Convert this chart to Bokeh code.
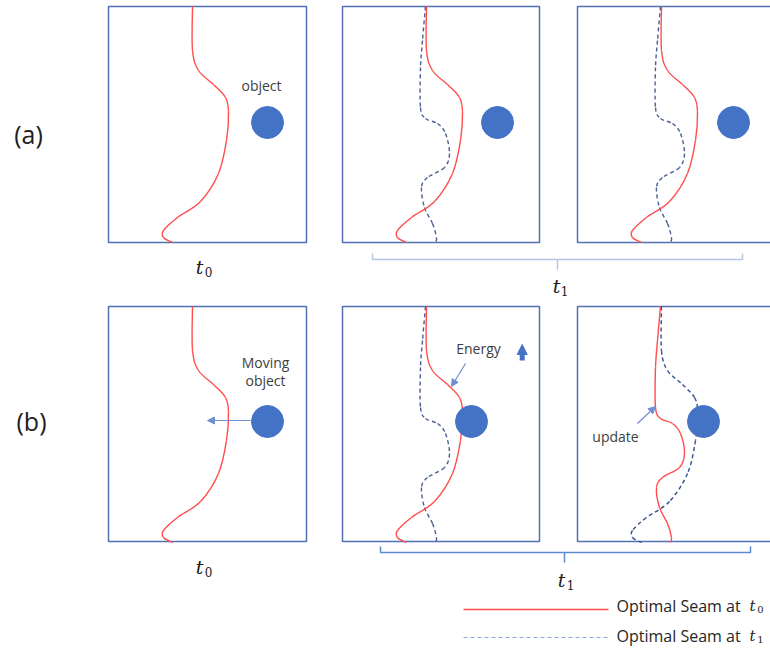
from bokeh.plotting import figure
from bokeh.models import Range1d, Arrow, NormalHead
from bokeh.embed import file_html
from bokeh.resources import INLINE
from bokeh.core.properties import value

# ---------------- data (reference pixel coordinates) ----------------
PANEL_LEFT = [108, 342, 577]
PANEL_RIGHT = [306, 539, 790]
ROW_TOP = [6, 306]
ROW_BOTTOM = [242, 541]

OBJ_X_A = [267, 497, 733]
OBJ_X_B = [267, 471, 703]
OBJ_Y = [122, 421]

# seam shapes relative to panel top-left
SEAM_T0_DX = [84, 84, 90, 105, 117, 120, 118, 110, 92, 69, 55, 55, 64]
SEAM_T0_DY = [0, 44, 64, 78, 91, 105, 134, 167, 195, 211, 224, 231, 236]
SEAM_T1_DX = [83, 80, 78, 78, 83, 95, 103, 107, 102, 85, 79, 82, 90, 94, 93]
SEAM_T1_DY = [0, 34, 61, 101, 112, 117, 127, 147, 161, 171, 181, 201, 217, 231, 236]

RED = "#ff4d4d"
NAVY = "#4a5f94"
BOX = "#5470b4"
DOT = "#4472c4"
TXT = "#404040"

p = figure(width=770, height=652, x_range=Range1d(0, 770), y_range=Range1d(652, 0),
           output_backend="svg", toolbar_location=None, min_border=0)
p.axis.visible = False
p.grid.visible = False
p.outline_line_color = None
p.background_fill_color = "white"
p.border_fill_color = "white"


def seam(x0, y0, dx, dy, color, dash):
    px = [x0 + v for v in dx]
    py = [y0 + v for v in dy]
    n = len(px)
    xs0, ys0, xs1, ys1, c0x, c0y, c1x, c1y = [], [], [], [], [], [], [], []
    for i in range(n - 1):
        a = max(i - 1, 0)
        b = min(i + 2, n - 1)
        xs0.append(px[i]); ys0.append(py[i])
        xs1.append(px[i + 1]); ys1.append(py[i + 1])
        c0x.append(px[i] + (px[i + 1] - px[a]) / 6.0)
        c0y.append(py[i] + (py[i + 1] - py[a]) / 6.0)
        c1x.append(px[i + 1] - (px[b] - px[i]) / 6.0)
        c1y.append(py[i + 1] - (py[b] - py[i]) / 6.0)
    p.bezier(x0=xs0, y0=ys0, x1=xs1, y1=ys1, cx0=c0x, cy0=c0y, cx1=c1x, cy1=c1y,
             line_color=color, line_width=1.4, line_dash=dash)


# panels
for r in range(2):
    p.quad(left=PANEL_LEFT, right=PANEL_RIGHT, top=[ROW_TOP[r]] * 3,
           bottom=[ROW_BOTTOM[r]] * 3, fill_color=None, line_color=BOX, line_width=1.5)

# seams row (a)
seam(PANEL_LEFT[0], ROW_TOP[0], SEAM_T0_DX, SEAM_T0_DY, RED, "solid")
for k in (1, 2):
    seam(PANEL_LEFT[k], ROW_TOP[0], SEAM_T1_DX, SEAM_T1_DY, NAVY, "4 3")
    seam(PANEL_LEFT[k], ROW_TOP[0], SEAM_T0_DX, SEAM_T0_DY, RED, "solid")
# seams row (b)
seam(PANEL_LEFT[0], ROW_TOP[1], SEAM_T0_DX, SEAM_T0_DY, RED, "solid")
seam(PANEL_LEFT[1], ROW_TOP[1], SEAM_T1_DX, SEAM_T1_DY, NAVY, "4 3")
seam(PANEL_LEFT[1], ROW_TOP[1], SEAM_T0_DX, SEAM_T0_DY, RED, "solid")
seam(PANEL_LEFT[2], ROW_TOP[1], SEAM_T0_DX, SEAM_T0_DY, "#34508f", "4 3")
seam(PANEL_LEFT[2], ROW_TOP[1], SEAM_T1_DX, SEAM_T1_DY, RED, "solid")

# objects
p.circle(x=OBJ_X_A, y=[OBJ_Y[0]] * 3, radius=16, fill_color=DOT, line_color=DOT)
p.circle(x=OBJ_X_B, y=[OBJ_Y[1]] * 3, radius=16, fill_color=DOT, line_color=DOT)

# arrows
p.add_layout(Arrow(x_start=250, y_start=420, x_end=207, y_end=420, line_color="#6f8fd0",
                   line_width=1.2, end=NormalHead(size=7, fill_color="#6f8fd0", line_color="#6f8fd0")))
p.add_layout(Arrow(x_start=465, y_start=363, x_end=451, y_end=386, line_color="#6f8fd0",
                   line_width=1.2, end=NormalHead(size=7, fill_color="#6f8fd0", line_color="#6f8fd0")))
p.add_layout(Arrow(x_start=637, y_start=423, x_end=655, y_end=406, line_color="#6f8fd0",
                   line_width=1.2, end=NormalHead(size=7, fill_color="#6f8fd0", line_color="#6f8fd0")))
p.add_layout(Arrow(x_start=521.7, y_start=360, x_end=521.7, y_end=344, line_color=DOT,
                   line_width=5, end=NormalHead(size=10, fill_color=DOT, line_color=DOT)))

# brackets
p.line(x=[372, 372, 742, 742], y=[253, 259, 259, 253], line_color="#b4c7e7", line_width=1.5)
p.line(x=[557, 557], y=[259, 269], line_color="#b4c7e7", line_width=1.5)
p.line(x=[380, 380, 750, 750], y=[546, 552, 552, 546], line_color="#5b8bd0", line_width=1.5)
p.line(x=[564, 564], y=[552, 562], line_color="#5b8bd0", line_width=1.5)

# labels
SANS = value("Open Sans")
p.text(x=[261], y=[85], text=["object"], text_font=SANS, text_font_size="14px",
       text_color=TXT, text_align="center", text_baseline="middle")
p.text(x=[265, 265], y=[362, 380], text=["Moving", "object"], text_font=SANS,
       text_font_size="14px", text_color=TXT, text_align="center", text_baseline="middle")
p.text(x=[478], y=[348], text=["Energy"], text_font=SANS, text_font_size="14px",
       text_color=TXT, text_align="center", text_baseline="middle")
p.text(x=[615], y=[436], text=["update"], text_font=SANS, text_font_size="14px",
       text_color=TXT, text_align="center", text_baseline="middle")
p.text(x=[28, 31], y=[133, 420], text=["(a)", "(b)"], text_font=SANS, text_font_size="25px",
       text_color="#202020", text_align="center", text_baseline="middle")

SERIF = value("DejaVu Serif")
T_X = [199, 556, 199, 561]
T_Y = [266, 285, 566, 579]
SUB_X = [208, 564, 208, 570]
SUB_Y = [271, 290, 571, 584]
SUB_T = ["0", "1", "0", "1"]
p.text(x=T_X, y=T_Y, text=["t"] * 4, text_font=SERIF, text_font_style="italic",
       text_font_size="19px", text_color="#202020", text_align="center", text_baseline="middle")
p.text(x=SUB_X, y=SUB_Y, text=SUB_T, text_font=SERIF, text_font_size="12px",
       text_color="#202020", text_align="center", text_baseline="middle")

# legend
p.line(x=[463, 608], y=[609, 609], line_color=RED, line_width=1.3)
p.line(x=[463, 608], y=[637, 637], line_color="#8fa8dc", line_width=1.2, line_dash="4 3")
p.text(x=[616, 616], y=[605, 635], text=["Optimal Seam at", "Optimal Seam at"], text_font=SANS,
       text_font_size="16px", text_color="#262626", text_align="left", text_baseline="middle")
p.text(x=[752, 752], y=[605, 635], text=["t", "t"], text_font=SERIF, text_font_style="italic",
       text_font_size="15px", text_color="#262626", text_align="center", text_baseline="middle")
p.text(x=[760, 760], y=[609, 639], text=["0", "1"], text_font=SERIF, text_font_size="10px",
       text_color="#262626", text_align="center", text_baseline="middle")

open("out.html", "w").write(file_html(p, INLINE))
